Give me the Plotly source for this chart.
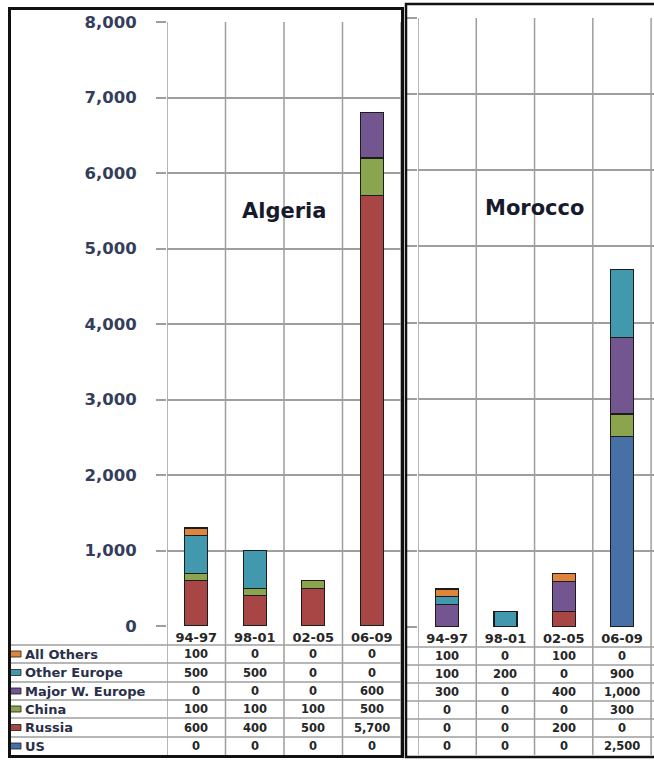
import plotly.graph_objects as go

# ---------------- data ----------------
periods = ["94-97", "98-01", "02-05", "06-09"]
series_names = ["US", "Russia", "China", "Major W. Europe", "Other Europe", "All Others"]
series_colors = ["#4771A6", "#A84545", "#8BA54E", "#735690", "#4299AE", "#DE853D"]

algeria_us = [0, 0, 0, 0]
algeria_russia = [600, 400, 500, 5700]
algeria_china = [100, 100, 100, 500]
algeria_major_we = [0, 0, 0, 600]
algeria_other_europe = [500, 500, 0, 0]
algeria_all_others = [100, 0, 0, 0]

morocco_us = [0, 0, 0, 2500]
morocco_russia = [0, 0, 200, 0]
morocco_china = [0, 0, 0, 300]
morocco_major_we = [300, 0, 400, 1000]
morocco_other_europe = [100, 200, 0, 900]
morocco_all_others = [100, 0, 100, 0]

y_ticks = [0, 1000, 2000, 3000, 4000, 5000, 6000, 7000, 8000]

algeria = [algeria_us, algeria_russia, algeria_china, algeria_major_we,
           algeria_other_europe, algeria_all_others]
morocco = [morocco_us, morocco_russia, morocco_china, morocco_major_we,
           morocco_other_europe, morocco_all_others]

# ---------------- layout helpers ----------------
W, H = 654, 760
def px(x):
    return x / W
def py(y):
    return 1 - y / H

GRID = "#9e9e9e"
FONT = "DejaVu Sans"
BAR_W = 0.395

fig = go.Figure()

for data, xa, ya in [(algeria, "x", "y"), (morocco, "x2", "y2")]:
    for name, color, vals in zip(series_names, series_colors, data):
        fig.add_trace(go.Bar(
            x=periods,
            y=[v if v != 0 else None for v in vals],
            name=name,
            marker=dict(color=color, line=dict(color="#1c1c1c", width=1.3)),
            width=BAR_W,
            xaxis=xa, yaxis=ya,
            showlegend=False,
            hoverinfo="skip",
        ))

common_x = dict(type="category", categoryorder="array", categoryarray=periods,
                showgrid=False, zeroline=False, showline=False, ticks="",
                automargin=False, ticklabelstandoff=2,
                tickfont=dict(family=FONT, size=13, color="#262626", weight="bold"),
                fixedrange=True)
common_y = dict(range=[0, 8000], tickvals=y_ticks, tickformat=",",
                showgrid=True, gridcolor=GRID, gridwidth=1.5, zeroline=False,
                showline=False, ticks="outside", tickcolor=GRID, tickwidth=1.5,
                automargin=False, fixedrange=True)

fig.update_layout(
    width=W, height=H,
    margin=dict(l=0, r=0, t=0, b=0, autoexpand=False),
    paper_bgcolor="white", plot_bgcolor="white",
    barmode="stack",
    xaxis=dict(domain=[px(167), px(401)], range=[-0.5, 3.5], anchor="y", **common_x),
    yaxis=dict(domain=[py(626), py(22)], anchor="x", ticklen=10,
               tickfont=dict(family=FONT, size=16.5, color="#343e5a", weight="bold"),
               ticklabelstandoff=16, **common_y),
    xaxis2=dict(domain=[px(418), 1.0], range=[-0.5, 3.55], anchor="y2", **common_x),
    yaxis2=dict(domain=[py(627), py(18)], anchor="x2", ticklen=11,
                showticklabels=False, **common_y),
)

shapes = []
annotations = []

# vertical grid / table column lines
for b in [-0.5, 0.5, 1.5, 2.5, 3.5]:
    shapes.append(dict(type="line", xref="x", yref="paper", x0=b, x1=b,
                       y0=py(755), y1=py(22), line=dict(color=GRID, width=1.5), layer="below"))
    shapes.append(dict(type="line", xref="x2", yref="paper", x0=b, x1=b,
                       y0=py(755), y1=py(18), line=dict(color=GRID, width=1.5), layer="below"))

# table rows
left_rows = [645, 663, 682, 700, 718, 737, 755]
right_rows = [647, 665, 683, 701, 719, 737, 755]
for yy in left_rows[:-1]:
    shapes.append(dict(type="line", xref="paper", yref="paper", x0=px(10), x1=px(401),
                       y0=py(yy), y1=py(yy), line=dict(color=GRID, width=1.5)))
for yy in right_rows[:-1]:
    shapes.append(dict(type="line", xref="paper", yref="paper", x0=px(406), x1=1.02,
                       y0=py(yy), y1=py(yy), line=dict(color=GRID, width=1.5)))

# table contents: top row is the last series (All Others) down to US
order = list(range(len(series_names)))[::-1]
for r, si in enumerate(order):
    lc = (left_rows[r] + left_rows[r + 1]) / 2
    rc = (right_rows[r] + right_rows[r + 1]) / 2
    # legend key
    shapes.append(dict(type="rect", xref="paper", yref="paper",
                       x0=px(10.5), x1=px(21), y0=py(lc + 3), y1=py(lc - 3),
                       fillcolor=series_colors[si], line=dict(color="#1c1c1c", width=0.8)))
    annotations.append(dict(xref="paper", yref="paper", x=px(23), y=py(lc),
                            xanchor="left", yanchor="middle", showarrow=False,
                            text="<b>" + series_names[si] + "</b>",
                            font=dict(family=FONT, size=13, color="#2a2f4a")))
    for i, p in enumerate(periods):
        annotations.append(dict(xref="x", yref="paper", x=i, y=py(lc),
                                xanchor="center", yanchor="middle", showarrow=False,
                                text="<b>" + f"{algeria[si][i]:,}" + "</b>",
                                font=dict(family=FONT, size=11.5, color="#262626")))
        annotations.append(dict(xref="x2", yref="paper", x=i, y=py(rc),
                                xanchor="center", yanchor="middle", showarrow=False,
                                text="<b>" + f"{morocco[si][i]:,}" + "</b>",
                                font=dict(family=FONT, size=11.5, color="#262626")))

# panel titles
annotations.append(dict(xref="x", yref="y", x=1.5, y=5500, showarrow=False,
                        text="<b>Algeria</b>", font=dict(family=FONT, size=21, color="#161a2c")))
annotations.append(dict(xref="x2", yref="y2", x=1.5, y=5500, showarrow=False,
                        text="<b>Morocco</b>", font=dict(family=FONT, size=21, color="#161a2c")))

# panel borders
shapes.append(dict(type="rect", xref="paper", yref="paper", x0=px(9.5), x1=px(402.5),
                   y0=py(756.5), y1=py(8.5), line=dict(color="#111111", width=3)))
shapes.append(dict(type="rect", xref="paper", yref="paper", x0=px(406), x1=px(700),
                   y0=py(757), y1=py(4), line=dict(color="#111111", width=2.5)))

fig.update_layout(shapes=shapes, annotations=annotations)

fig.write_html("out.html")
